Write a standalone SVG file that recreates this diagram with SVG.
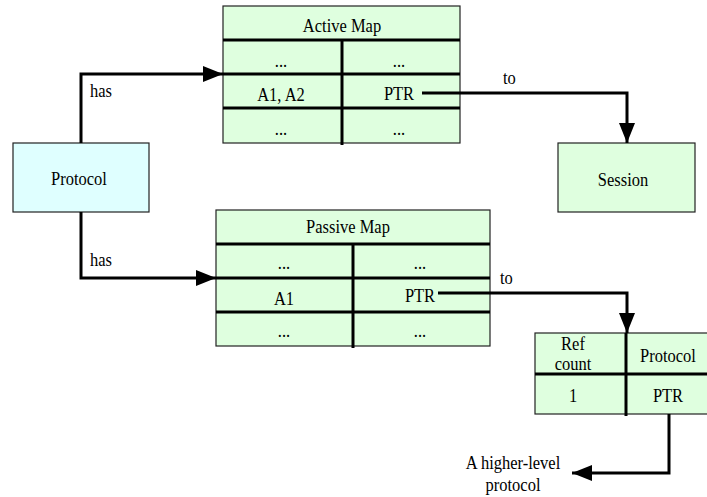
<svg xmlns="http://www.w3.org/2000/svg" width="707" height="497" viewBox="0 0 707 497">
<style>
text{font-family:'Liberation Serif','Times New Roman',serif;font-size:16.5px;fill:#000;text-anchor:middle}
text.l{text-anchor:start}
.box{stroke:#222;stroke-width:1.2}
.g{fill:#dfffdf}
.c{fill:#dfffff}
.div{stroke:#000;stroke-width:3;fill:none}
.conn{stroke:#000;stroke-width:3;fill:none}
</style>
<defs>
<marker id="ah" viewBox="0 0 20 16" refX="20" refY="8" markerWidth="20" markerHeight="16" markerUnits="userSpaceOnUse" orient="auto">
<path d="M0,0 L20,8 L0,16 Z" fill="#000"/>
</marker>
</defs>
<rect width="707" height="497" fill="#fff"/>

<g id="protocol">
<rect class="box c" x="13" y="143" width="136" height="69"/>
<text transform="translate(79,185) scale(1,1.18)">Protocol</text>
</g>

<g id="active-map">
<rect class="box g" x="223" y="6" width="237" height="137"/>
<line class="div" x1="223" y1="40" x2="460" y2="40"/>
<line class="div" x1="223" y1="74" x2="460" y2="74"/>
<line class="div" x1="223" y1="108" x2="460" y2="108"/>
<line class="div" x1="342" y1="40" x2="342" y2="145"/>
<text transform="translate(342,32) scale(1,1.18)">Active Map</text>
<text transform="translate(281,67) scale(1,1.18)">...</text>
<text transform="translate(399,67) scale(1,1.18)">...</text>
<text transform="translate(281,101) scale(1,1.18)">A1, A2</text>
<text transform="translate(399,100) scale(1,1.18)">PTR</text>
<text transform="translate(281,135) scale(1,1.18)">...</text>
<text transform="translate(399,135) scale(1,1.18)">...</text>
</g>

<g id="session">
<rect class="box g" x="558" y="143" width="137" height="69"/>
<text transform="translate(623,186) scale(1,1.18)">Session</text>
</g>

<g id="passive-map">
<rect class="box g" x="216" y="210" width="274" height="136"/>
<line class="div" x1="216" y1="244" x2="490" y2="244"/>
<line class="div" x1="216" y1="278" x2="490" y2="278"/>
<line class="div" x1="216" y1="312" x2="490" y2="312"/>
<line class="div" x1="353" y1="244" x2="353" y2="348"/>
<text transform="translate(348,233) scale(1,1.18)">Passive Map</text>
<text transform="translate(284,269) scale(1,1.18)">...</text>
<text transform="translate(420,269) scale(1,1.18)">...</text>
<text transform="translate(284,305) scale(1,1.18)">A1</text>
<text transform="translate(420,302) scale(1,1.18)">PTR</text>
<text transform="translate(284,337) scale(1,1.18)">...</text>
<text transform="translate(420,337) scale(1,1.18)">...</text>
</g>

<g id="ref-table">
<rect class="box g" x="535" y="333" width="180" height="81"/>
<line class="div" x1="535" y1="374" x2="715" y2="374"/>
<line class="div" x1="626" y1="333" x2="626" y2="416"/>
<text transform="translate(573,350) scale(1,1.12)">Ref</text>
<text transform="translate(573,370) scale(1,1.12)">count</text>
<text transform="translate(668,362) scale(1,1.18)">Protocol</text>
<text transform="translate(573,402) scale(1,1.18)">1</text>
<text transform="translate(668,402) scale(1,1.18)">PTR</text>
</g>

<g id="higher-level">
<text transform="translate(513,469) scale(1,1.18)">A higher-level</text>
<text transform="translate(513,491) scale(1,1.18)">protocol</text>
</g>

<g id="connectors">
<path class="conn" d="M81,143 V74 H223" marker-end="url(#ah)"/>
<text class="l" transform="translate(90,97) scale(1,1.18)">has</text>
<path class="conn" d="M81,212 V278 H216" marker-end="url(#ah)"/>
<text class="l" transform="translate(90,266) scale(1,1.18)">has</text>
<path class="conn" d="M422,93 H627 V143" marker-end="url(#ah)"/>
<text class="l" transform="translate(503,84) scale(1,1.18)">to</text>
<path class="conn" d="M438,293 H627 V333" marker-end="url(#ah)"/>
<text class="l" transform="translate(500,284) scale(1,1.18)">to</text>
<path class="conn" d="M669,414 V473 H572" marker-end="url(#ah)"/>
</g>
</svg>
